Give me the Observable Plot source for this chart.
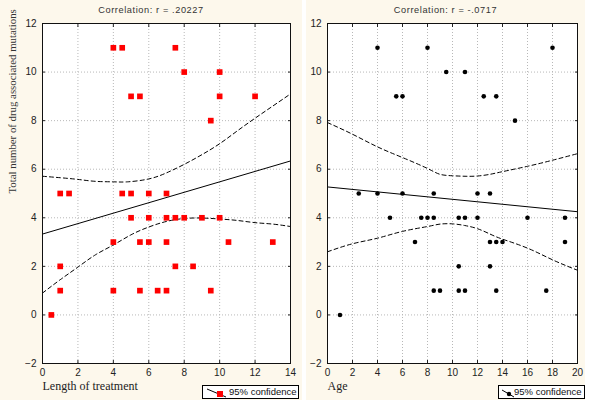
<!DOCTYPE html>
<html><head><meta charset="utf-8">
<script src="https://cdn.jsdelivr.net/npm/d3@7"></script>
<script src="https://cdn.jsdelivr.net/npm/@observablehq/plot@0.6"></script>
<style>
html,body{margin:0;padding:0;background:#fff;width:600px;height:400px;overflow:hidden}
.panel{position:absolute;top:0;height:400px;background:#fdf8ec}
.panel svg{position:absolute;left:0;top:0}
.title{position:absolute;top:5px;left:0;width:100%;text-align:center;font:9.2px "Liberation Sans",Arial,sans-serif;color:#333;letter-spacing:0.6px}
.legend{position:absolute;top:385px;height:14px;border:1px solid #000;background:#fff;box-sizing:border-box;font:9.5px "Liberation Sans",Arial,sans-serif;color:#111;white-space:nowrap}
.legend svg{position:absolute;left:1px;top:1px}
.legend span{position:absolute;top:0px;line-height:12px}
</style></head>
<body>
<div id="left" class="panel" style="left:0;width:302px"></div>
<div id="right" class="panel" style="left:306px;width:279px"></div>
<script>
// ---- data ----
const leftTitle = "Correlation: r = .20227";
const rightTitle = "Correlation: r = -.0717";
const yLabel = "Total number of drug associated mutations";
const leftXLabel = "Length of treatment";
const rightXLabel = "Age";
const legendText = "95% confidence";

const lenTicks = [0, 2, 4, 6, 8, 10, 12, 14];
const ageTicks = [0, 2, 4, 6, 8, 10, 12, 14, 16, 18, 20];
const yTicks = [-2, 0, 2, 4, 6, 8, 10, 12];

const lenX = [4, 4.5, 7.5, 8, 10, 5, 5.5, 10, 12, 9.5, 1, 1.5, 4.5, 5, 6, 7, 5, 6, 7, 7.5, 8, 9, 10, 4, 5.5, 6, 7, 10.5, 13, 1, 7.5, 8.5, 1, 4, 5.5, 6.5, 7, 9.5, 0.5];
const lenY = [11, 11, 11, 10, 10, 9, 9, 9, 9, 8, 5, 5, 5, 5, 5, 5, 4, 4, 4, 4, 4, 4, 4, 3, 3, 3, 3, 3, 3, 2, 2, 2, 1, 1, 1, 1, 1, 1, 0];

const ageX = [4, 8, 18, 9.5, 11, 5.5, 6, 12.5, 13.5, 15, 2.5, 4, 6, 8.5, 12, 13, 5, 7.5, 8, 8.5, 10.5, 11, 12, 16, 19, 7, 13, 13.5, 14, 19, 10.5, 13, 8.5, 9, 10.5, 11, 13.5, 17.5, 1];
const ageY = [11, 11, 11, 10, 10, 9, 9, 9, 9, 8, 5, 5, 5, 5, 5, 5, 4, 4, 4, 4, 4, 4, 4, 4, 4, 3, 3, 3, 3, 3, 2, 2, 1, 1, 1, 1, 1, 1, 0];

const lenFitX = [0, 14];
const lenFitY = [3.33, 6.34];
const lenBandX = [0, 1, 2, 3, 4, 4.8, 6, 7, 8, 9, 10, 11, 12, 13, 14];
const lenUpper = [5.71, 5.65, 5.58, 5.5, 5.48, 5.48, 5.6, 5.85, 6.2, 6.6, 7.05, 7.58, 8.1, 8.6, 9.1];
const lenLowerX = [0, 1, 2, 3, 4, 5, 6, 7, 8, 9, 10, 11, 12, 13, 14];
const lenLower = [0.9, 1.45, 1.97, 2.48, 2.88, 3.3, 3.62, 3.85, 3.97, 3.99, 3.95, 3.89, 3.8, 3.74, 3.64];

const ageFitX = [0, 20];
const ageFitY = [5.27, 4.25];
const ageBandX = [0, 2, 4, 6, 8, 9, 10, 11, 12, 13, 14, 16, 18, 20];
const ageUpper = [7.92, 7.44, 6.92, 6.48, 6.03, 5.79, 5.73, 5.71, 5.72, 5.79, 5.9, 6.12, 6.37, 6.64];
const ageLower = [2.6, 2.93, 3.16, 3.44, 3.64, 3.74, 3.75, 3.68, 3.55, 3.33, 3.12, 2.75, 2.27, 1.84];

// ---- drawing ----
const toPts = (xs, ys) => xs.map((x, i) => ({x, y: ys[i]}));

function panel(opts) {
  const {el, width, ml, mr, xTicks, pts, fitX, fitY, upX, up, loX, lo, dot, yLab, xLab, xLabSpacing, title,
         legendLeft, legendWidth, legendSvg, legendTextLeft} = opts;
  const grid = {stroke: "#b8b8b8", strokeOpacity: 1, strokeDasharray: "1,2"};
  const dash = {x: "x", y: "y", stroke: "#000", strokeWidth: 1, strokeDasharray: "4,3", curve: "natural"};
  const marks = [
    Plot.frame({fill: "white"}),
    Plot.gridX(xTicks, grid),
    Plot.gridY(yTicks, grid),
    Plot.axisX(xTicks, {tickSize: -3, tickPadding: 8, label: null, stroke: "#222", fill: "#222"}),
    Plot.axisX(xTicks, {anchor: "top", tickSize: -3, tickFormat: () => "", label: null, stroke: "#222"}),
    Plot.axisY(yTicks, {tickSize: -3, tickPadding: 9, label: null, stroke: "#222", fill: "#222"}),
    Plot.axisY(yTicks, {anchor: "right", tickSize: -3, tickFormat: () => "", label: null, stroke: "#222"}),
    Plot.line(toPts(upX, up), dash),
    Plot.line(toPts(loX, lo), dash),
    Plot.line(toPts(fitX, fitY), {x: "x", y: "y", stroke: "#000", strokeWidth: 1}),
    Plot.dot(pts, {x: "x", y: "y", ...dot}),
    Plot.frame({stroke: "#111", strokeWidth: 1}),
    Plot.text([xLab], {frameAnchor: "bottom-left", textAnchor: "start", dy: 26, fontFamily: "Liberation Serif", fontSize: 12, fill: "#222", ariaLabel: "xlabel"})
  ];
  if (yLab) marks.push(Plot.text([yLab], {frameAnchor: "left", rotate: -90, dx: -30, fontFamily: "Liberation Serif", fontSize: 10.8, fill: "#333"}));
  const svg = Plot.plot({
    width, height: 400,
    marginLeft: ml, marginRight: mr, marginTop: 23, marginBottom: 37,
    style: {background: "transparent", fontFamily: "Liberation Sans, Arial, sans-serif", fontSize: "10px", color: "#222", overflow: "visible"},
    x: {domain: [xTicks[0], xTicks[xTicks.length - 1]]},
    y: {domain: [yTicks[0], yTicks[yTicks.length - 1]]},
    marks
  });
  svg.querySelectorAll('[aria-label="xlabel"] text').forEach(t => t.setAttribute("letter-spacing", xLabSpacing));
  el.appendChild(svg);
  const t = document.createElement("div");
  t.className = "title"; t.textContent = title; el.appendChild(t);
  const lg = document.createElement("div");
  lg.className = "legend";
  lg.style.left = legendLeft + "px"; lg.style.width = legendWidth + "px";
  lg.innerHTML = legendSvg + "<span></span>";
  const sp = lg.querySelector("span");
  sp.textContent = legendText;
  sp.style.left = legendTextLeft + "px";
  el.appendChild(lg);
}

panel({
  el: document.getElementById("left"), width: 302, ml: 42, mr: 12, xTicks: lenTicks,
  pts: toPts(lenX, lenY), fitX: lenFitX, fitY: lenFitY,
  upX: lenBandX, up: lenUpper, loX: lenLowerX, lo: lenLower,
  dot: {symbol: "square", r: 3.2, fill: "#ff0000", stroke: "none"},
  yLab: yLabel, xLab: leftXLabel, xLabSpacing: "0.9px", title: leftTitle,
  legendLeft: 202, legendWidth: 97, legendTextLeft: 26,
  legendSvg: `<svg width="26" height="11"><line x1="3" y1="2" x2="22" y2="10" stroke="#000" stroke-width="1"/><rect x="13" y="4" width="6" height="6" fill="#ff0000"/></svg>`
});
panel({
  el: document.getElementById("right"), width: 279, ml: 21, mr: 8, xTicks: ageTicks,
  pts: toPts(ageX, ageY), fitX: ageFitX, fitY: ageFitY,
  upX: ageBandX, up: ageUpper, loX: ageBandX, lo: ageLower,
  dot: {r: 2.3, fill: "#000", stroke: "none"},
  yLab: null, xLab: rightXLabel, xLabSpacing: "0.6px", title: rightTitle,
  legendLeft: 192, legendWidth: 87, legendTextLeft: 15,
  legendSvg: `<svg width="16" height="11"><line x1="2" y1="3" x2="14" y2="10" stroke="#000" stroke-width="1"/><circle cx="9" cy="7" r="2.2" fill="#000"/></svg>`
});
</script>
</body></html>
